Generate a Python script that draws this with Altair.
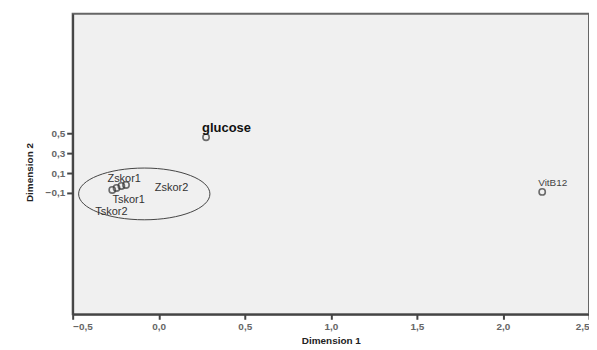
import altair as alt
import pandas as pd

labels = ["glucose", "VitB12", "Zskor1", "Zskor2", "Tskor1", "Tskor2"]
dim1 = [0.275, 2.228, -0.217, -0.19, -0.245, -0.27]
dim2 = [0.46, -0.09, -0.03, -0.02, -0.05, -0.07]

x_ticks = [-0.5, 0.0, 0.5, 1.0, 1.5, 2.0, 2.5]
y_ticks = [0.5, 0.3, 0.1, -0.1]

# hand-drawn annotation ellipse around the cluster
ellipse_x = [-0.084]
ellipse_y = [-0.11]

df = pd.DataFrame({"label": labels, "d1": dim1, "d2": dim2})
ell = pd.DataFrame({"d1": ellipse_x, "d2": ellipse_y})

FONT = "Liberation Sans"

xs = alt.Scale(domain=[-0.5, 2.5], nice=False, zero=False)
ys = alt.Scale(domain=[-1.32, 1.70], nice=False, zero=False)

xenc = alt.X("d1:Q", scale=xs, axis=alt.Axis(
    title="Dimension 1", values=x_ticks,
    labelExpr="replace(format(datum.value, '.1f'), '.', ',')",
    grid=False, domainColor="#444", domainWidth=2, tickColor="#444", tickWidth=2, tickSize=5,
    labelFont=FONT, labelFontSize=10, labelFontWeight="bold", labelColor="#666",
    labelPadding=2, titleFont=FONT, titleFontSize=10, titleFontWeight="bold",
    titleColor="#222", titlePadding=4))
yenc = alt.Y("d2:Q", scale=ys, axis=alt.Axis(
    title="Dimension 2", values=y_ticks,
    labelExpr="replace(format(datum.value, '.1f'), '.', ',')",
    grid=False, domainColor="#444", domainWidth=2, tickColor="#444", tickWidth=2, tickSize=6,
    labelFont=FONT, labelFontSize=10, labelFontWeight="bold", labelColor="#666",
    labelPadding=2, titleFont=FONT, titleFontSize=10, titleFontWeight="bold",
    titleColor="#222", titleX=-38, titleY=159))

base = alt.Chart(df)

points = base.mark_point(shape="circle", filled=False, size=40, stroke="#333",
                         strokeWidth=1.6).encode(x=xenc, y=yenc)

offsets = {
    "glucose": (-4, -5, 13, "bold", "#111"),
    "VitB12": (-4, -6, 10, "normal", "#444"),
    "Zskor1": (-14, -4, 11, "normal", "#333"),
    "Zskor2": (29, 6, 11, "normal", "#333"),
    "Tskor1": (-4, 15, 11, "normal", "#333"),
    "Tskor2": (-17, 25, 11, "normal", "#333"),
}

texts = []
for name, (dx, dy, fs, fw, col) in offsets.items():
    texts.append(
        base.transform_filter(alt.datum.label == name)
        .mark_text(align="left", baseline="alphabetic", dx=dx, dy=dy, font=FONT,
                   fontSize=fs, fontWeight=fw, color=col)
        .encode(x="d1:Q", y="d2:Q", text="label:N")
    )

ellipse = alt.Chart(ell).mark_point(
    shape="M -1 0 A 1 0.394 0 1 0 1 0 A 1 0.394 0 1 0 -1 0",
    filled=False, size=17424, stroke="#444", strokeWidth=1, opacity=1
).encode(x="d1:Q", y="d2:Q")

chart = alt.layer(ellipse, points, *texts).properties(
    width=519, height=302,
    autosize=alt.AutoSizeParams(type="none"),
    padding={"left": 65, "top": 5, "right": 0, "bottom": 34},
    background="white",
).configure_view(fill="#F0F0F0", stroke="#666", strokeWidth=2)

chart.save("out.html", embed_options={"renderer": "svg", "actions": False})
